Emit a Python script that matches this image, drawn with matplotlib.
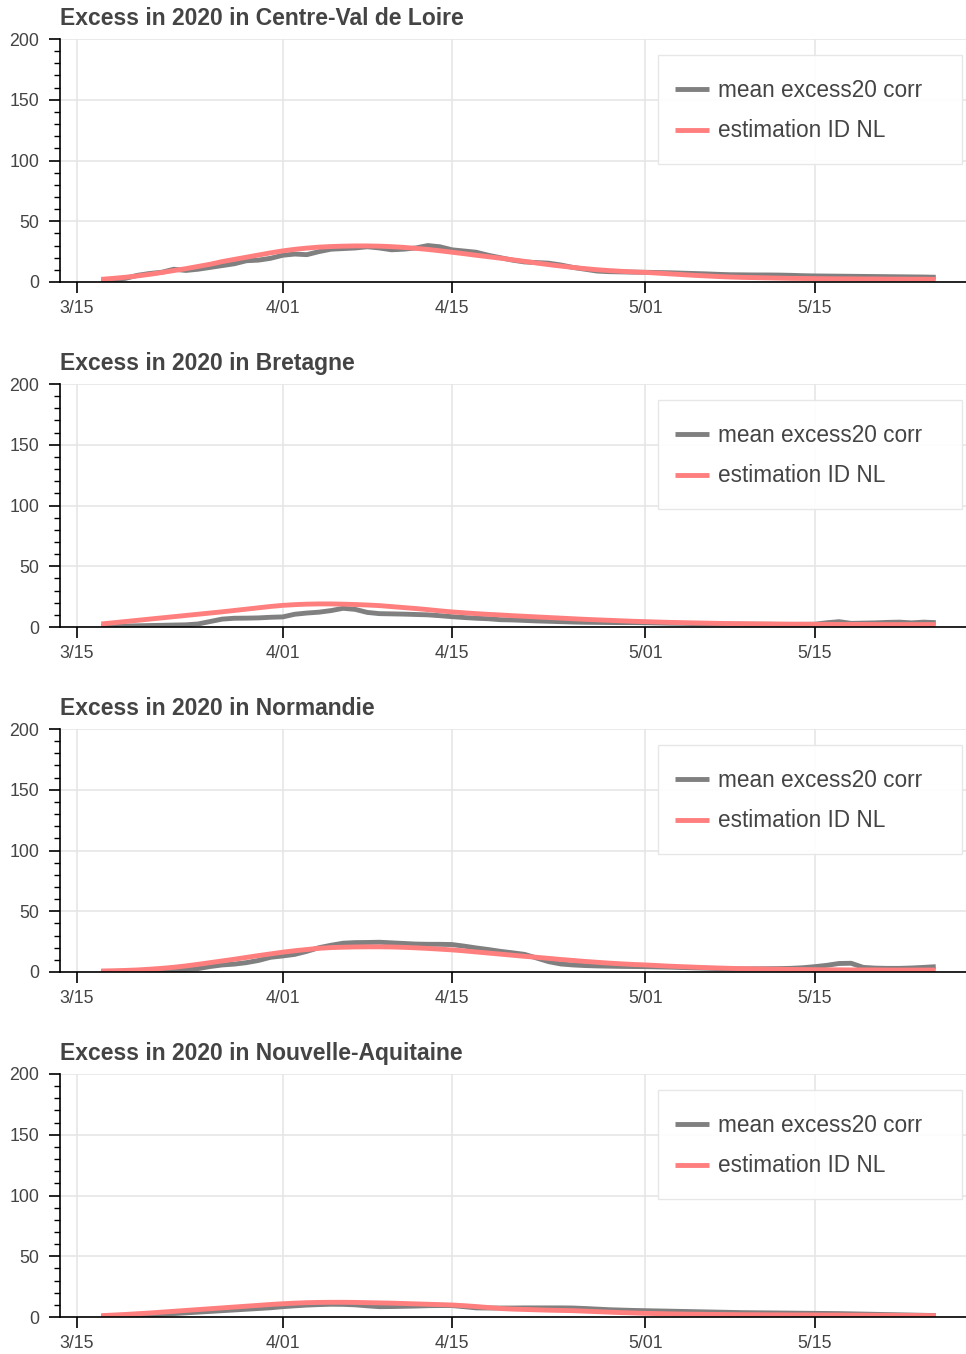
import matplotlib
matplotlib.use("Agg")
import matplotlib.pyplot as plt
from matplotlib.ticker import MultipleLocator
from matplotlib.legend_handler import HandlerLine2D
from matplotlib.lines import Line2D
import numpy as np
import pandas as pd

plt.rcParams['font.family'] = ['Liberation Sans', 'DejaVu Sans']

# ---------------- data ----------------
dates = pd.date_range("2020-03-17", "2020-05-25", freq="D")

regions = ["Centre-Val de Loire", "Bretagne", "Normandie", "Nouvelle-Aquitaine"]

centre_mean = [
    1.0, 1.5, 3.0, 5.5, 7.0, 8.0, 10.5, 9.5, 10.5, 12.0,
    13.5, 15.0, 17.5, 18.0, 19.5, 22.0, 23.0, 22.5, 25.0, 27.0,
    27.5, 28.0, 29.0, 28.0, 26.5, 27.0, 28.0, 30.0, 29.0, 26.5,
    25.5, 24.5, 22.0, 20.0, 18.0, 16.5, 16.0, 15.5, 14.0, 12.0,
    10.5, 9.0, 8.5, 8.3, 8.1, 8.0, 7.8, 7.6, 7.3, 7.0,
    6.7, 6.3, 6.0, 5.9, 5.8, 5.8, 5.7, 5.5, 5.2, 5.0,
    4.9, 4.8, 4.7, 4.6, 4.5, 4.4, 4.3, 4.2, 4.1, 3.9]
centre_est = [
    2.2, 3.0, 3.9, 5.0, 6.3, 7.8, 9.4, 11.0, 12.8, 14.6,
    16.8, 18.6, 20.4, 22.2, 24.0, 25.6, 26.9, 27.9, 28.7, 29.2,
    29.5, 29.7, 29.7, 29.5, 29.1, 28.5, 27.7, 26.8, 25.7, 24.5,
    23.3, 22.0, 20.8, 19.6, 18.3, 17.0, 15.6, 14.3, 13.1, 12.0,
    11.0, 10.1, 9.4, 8.8, 8.3, 7.9, 7.3, 6.7, 6.1, 5.5,
    5.0, 4.5, 4.1, 3.8, 3.6, 3.4, 3.2, 3.0, 2.9, 2.8,
    2.7, 2.6, 2.6, 2.5, 2.5, 2.4, 2.4, 2.3, 2.3, 2.2]

bretagne_mean = [
    0.5, 0.6, 0.8, 1.0, 1.2, 1.4, 1.6, 1.8, 2.5, 4.5,
    6.5, 7.2, 7.3, 7.5, 8.0, 8.3, 10.5, 11.5, 12.2, 13.5,
    15.4, 14.5, 12.0, 11.0, 10.8, 10.6, 10.3, 10.0, 9.3, 8.5,
    7.8, 7.2, 6.8, 6.0, 5.8, 5.4, 5.0, 4.7, 4.4, 4.1,
    3.9, 3.8, 3.7, 3.6, 3.6, 3.5, 3.3, 3.1, 3.0, 2.8,
    2.7, 2.6, 2.5, 2.4, 2.3, 2.3, 2.2, 2.2, 2.2, 2.3,
    3.5, 4.4, 3.0, 3.2, 3.4, 3.8, 4.0, 3.4, 4.0, 3.6]
bretagne_est = [
    2.5, 3.5, 4.5, 5.5, 6.5, 7.5, 8.5, 9.5, 10.5, 11.5,
    12.5, 13.6, 14.7, 15.8, 16.9, 17.8, 18.4, 18.8, 19.0, 19.0,
    18.8, 18.5, 18.1, 17.6, 16.8, 16.0, 15.2, 14.3, 13.3, 12.4,
    11.7, 11.0, 10.4, 9.9, 9.3, 8.8, 8.3, 7.8, 7.3, 6.8,
    6.3, 5.9, 5.5, 5.1, 4.7, 4.4, 4.1, 3.8, 3.6, 3.4,
    3.2, 3.0, 2.8, 2.7, 2.6, 2.5, 2.4, 2.3, 2.3, 2.2,
    2.2, 2.1, 2.1, 2.1, 2.0, 2.0, 2.0, 2.0, 2.0, 2.0]

normandie_mean = [
    0.5, 0.5, 0.6, 0.7, 0.8, 1.0, 1.5, 2.0, 2.8, 4.5,
    5.8, 6.5, 7.7, 9.5, 12.1, 13.2, 14.5, 17.0, 20.0, 22.0,
    23.7, 24.2, 24.3, 24.5, 24.0, 23.5, 23.0, 22.8, 22.8, 22.6,
    21.3, 19.8, 18.5, 17.0, 15.8, 14.5, 11.5, 8.5, 6.6, 5.8,
    5.3, 5.0, 4.8, 4.6, 4.5, 4.4, 4.2, 4.0, 3.7, 3.4,
    3.1, 2.8, 2.5, 2.5, 2.6, 2.7, 2.8, 3.0, 3.5, 4.4,
    5.5, 7.0, 7.2, 3.8, 3.2, 3.0, 3.0, 3.3, 3.8, 4.4]
normandie_est = [
    0.8, 1.0, 1.3, 1.7, 2.3, 3.0, 3.9, 5.0, 6.3, 7.7,
    9.1, 10.5, 12.0, 13.5, 14.9, 16.3, 17.5, 18.5, 19.5, 20.1,
    20.4, 20.6, 20.7, 20.7, 20.6, 20.3, 19.9, 19.4, 18.8, 18.2,
    17.4, 16.5, 15.6, 14.7, 13.8, 12.9, 12.1, 11.2, 10.3, 9.5,
    8.7, 8.0, 7.3, 6.7, 6.2, 5.8, 5.3, 4.8, 4.4, 4.0,
    3.6, 3.3, 3.0, 2.8, 2.6, 2.4, 2.3, 2.1, 2.0, 1.9,
    1.8, 1.8, 1.7, 1.7, 1.7, 1.6, 1.6, 1.6, 1.6, 1.6]

aquitaine_mean = [
    0.5, 0.7, 1.0, 1.4, 1.8, 2.3, 2.8, 3.4, 4.0, 4.6,
    5.2, 5.8, 6.4, 7.0, 7.6, 8.5, 9.2, 9.8, 10.2, 10.5,
    10.4, 10.0, 9.2, 8.5, 8.6, 8.8, 9.0, 9.3, 9.4, 9.4,
    8.5, 7.5, 7.4, 7.4, 7.4, 7.5, 7.5, 7.5, 7.5, 7.4,
    7.0, 6.5, 6.0, 5.7, 5.4, 5.2, 5.0, 4.8, 4.6, 4.4,
    4.2, 4.0, 3.8, 3.6, 3.5, 3.4, 3.3, 3.2, 3.1, 3.0,
    2.9, 2.8, 2.6, 2.4, 2.2, 2.0, 1.8, 1.6, 1.4, 1.2]
aquitaine_est = [
    1.1, 1.6, 2.1, 2.7, 3.3, 4.0, 4.7, 5.4, 6.1, 6.8,
    7.5, 8.2, 8.9, 9.6, 10.3, 10.9, 11.4, 11.8, 12.0, 12.1,
    12.1, 12.0, 11.8, 11.6, 11.4, 11.1, 10.8, 10.5, 10.2, 9.9,
    9.3, 8.6, 7.8, 7.0, 6.5, 6.2, 5.9, 5.6, 5.4, 5.2,
    4.8, 4.4, 4.0, 3.6, 3.3, 3.0, 2.8, 2.6, 2.4, 2.3,
    2.2, 2.1, 2.0, 1.9, 1.9, 1.8, 1.8, 1.7, 1.7, 1.7,
    1.6, 1.6, 1.5, 1.5, 1.4, 1.4, 1.3, 1.3, 1.2, 1.1]

mean_series = [centre_mean, bretagne_mean, normandie_mean, aquitaine_mean]
est_series = [centre_est, bretagne_est, normandie_est, aquitaine_est]

xtick_dates = ["2020-03-15", "2020-04-01", "2020-04-15", "2020-05-01", "2020-05-15"]
xtick_labels = ["3/15", "4/01", "4/15", "5/01", "5/15"]
series_labels = ["mean excess20 corr", "estimation ID NL"]

# ---------------- style ----------------
GRAY = "#808080"
RED = "#ff7f7f"
TXT = "#444444"
GRID = "#e6e6e6"
LW = 3.5


class CenteredLineHandler(HandlerLine2D):
    """Legend line handler shifted down so the line sits at the text's middle."""
    def __init__(self, shift=3.6, **kw):
        super().__init__(**kw)
        self._shift = shift

    def create_artists(self, legend, orig_handle, xdescent, ydescent,
                       width, height, fontsize, trans):
        arts = super().create_artists(legend, orig_handle, xdescent, ydescent,
                                      width, height, fontsize, trans)
        for a in arts:
            a.set_ydata(np.asarray(a.get_ydata(), dtype=float) - self._shift)
        return arts


W, H = 966, 1354
fig = plt.figure(figsize=(W / 100, H / 100), dpi=100)

ref = pd.Timestamp("2020-03-15")
xmin = ref - pd.Timedelta(hours=1.41 * 24)
xmax = ref + pd.Timedelta(hours=73.5 * 24)

for i, name in enumerate(regions):
    top = 39 + 345 * i
    bottom = 282 + 345 * i
    ax = fig.add_axes([60 / W, 1 - bottom / H, 906 / W, (bottom - top) / H])

    ax.plot(dates, mean_series[i], color=GRAY, lw=LW, label=series_labels[0],
            solid_capstyle='butt', solid_joinstyle='round')
    ax.plot(dates, est_series[i], color=RED, lw=LW, label=series_labels[1],
            solid_capstyle='butt', solid_joinstyle='round')

    ax.set_ylim(0, 200)
    ax.set_xlim(xmin, xmax)
    ax.set_xticks(pd.to_datetime(xtick_dates))
    ax.set_xticklabels(xtick_labels)
    ax.yaxis.set_major_locator(MultipleLocator(50))
    ax.yaxis.set_minor_locator(MultipleLocator(10))

    ax.grid(True, which='major', color=GRID, lw=1.2)
    ax.set_axisbelow(True)

    for s in ['top', 'right']:
        ax.spines[s].set_visible(False)
    for s in ['left', 'bottom']:
        ax.spines[s].set_color('black')
        ax.spines[s].set_linewidth(1.2)

    ax.tick_params(axis='both', which='major', direction='out', length=8,
                   width=1.2, color='black', labelsize=12.8, labelcolor=TXT)
    ax.tick_params(axis='y', which='major', pad=7)
    ax.tick_params(axis='x', which='major', pad=5)
    ax.tick_params(axis='y', which='minor', direction='out', length=4.5,
                   width=1.0, color='black')

    ax.set_title(f"Excess in 2020 in {name}", loc='left', fontsize=16.5,
                 fontweight='bold', color=TXT, pad=10)

    leg = ax.legend(loc='upper right', bbox_to_anchor=(0.660, 0.0, 0.3355, 0.934),
                    mode='expand', borderaxespad=0, fontsize=16.3, frameon=True,
                    fancybox=False, edgecolor=GRID, framealpha=0.95,
                    handlelength=1.5, handleheight=2.0, handletextpad=0.4,
                    labelspacing=0.24, borderpad=0.75, labelcolor=TXT,
                    handler_map={Line2D: CenteredLineHandler(shift=3.6)})
    leg.get_frame().set_linewidth(1.0)
    for line in leg.get_lines():
        line.set_linewidth(LW)

fig.savefig("out.png", dpi=100)
